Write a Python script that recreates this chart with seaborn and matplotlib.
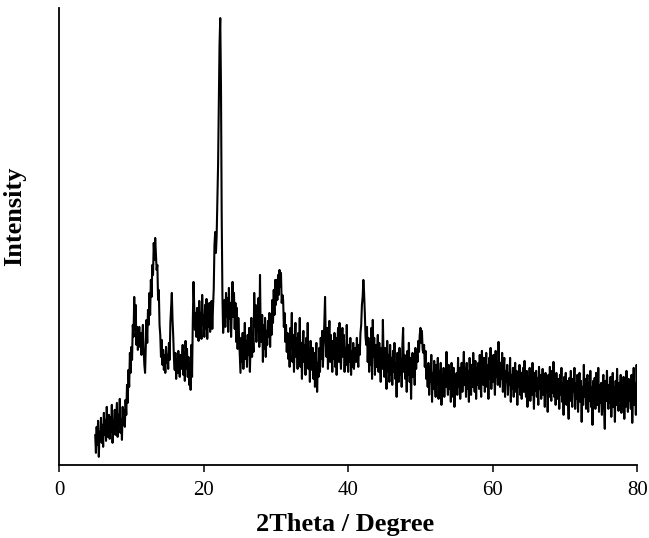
import numpy as np
import pandas as pd
import matplotlib
matplotlib.use("Agg")
import matplotlib.pyplot as plt
import seaborn as sns

# XRD scan: 5.0 -> 80.0 deg, step 0.1 deg (intensity in arbitrary units)
SCAN_START, SCAN_STOP, SCAN_STEP = 5.0, 80.0, 0.1

# 5.0 - 19.9 deg
intensity_05_20 = [
    30, 12, 38, 20, 44, 8, 33, 26, 47, 22,
    40, 18, 52, 30, 45, 24, 58, 28, 38, 50,
    26, 48, 33, 60, 22, 44, 36, 55, 30, 47,
    62, 28, 50, 38, 66, 32, 45, 25, 58, 40,
    55, 38, 65, 50, 80, 62, 95, 78, 112, 92,
    118, 105, 140, 128, 168, 135, 160, 120, 138, 115,
    125, 138, 118, 132, 110, 128, 140, 115, 100, 92,
    120, 145, 122, 155, 140, 172, 150, 185, 168, 200,
    190, 222, 205, 227, 210, 195, 200, 165, 175, 140,
    130, 108, 125, 100, 115, 95, 110, 92, 118, 102,
    110, 96, 122, 105, 142, 158, 172, 145, 128, 105,
    95, 112, 86, 106, 92, 114, 98, 88, 110, 96,
    104, 120, 90, 112, 84, 124, 96, 116, 88, 108,
    80, 102, 75, 120, 88, 142, 183, 158, 135, 152,
    128, 157, 138, 124, 164, 132, 152, 126, 170, 140,
]

# 20.0 - 34.9 deg
intensity_20_35 = [
    150, 128, 160, 136, 166, 126, 154, 138, 162, 133,
    147, 164, 136, 158, 176, 220, 233, 212, 228, 262,
    300, 360, 420, 447, 380, 250, 170, 132, 152, 165,
    138, 172, 148, 167, 133, 177, 146, 162, 128, 157,
    183, 148, 172, 136, 162, 123, 157, 116, 147, 128,
    110, 92, 127, 103, 132, 96, 120, 142, 106, 124,
    98, 130, 110, 137, 93, 122, 147, 108, 132, 113,
    172, 138, 160, 123, 152, 133, 167, 118, 190, 128,
    123, 150, 103, 140, 116, 147, 108, 134, 120, 144,
    128, 152, 118, 150, 130, 165, 142, 175, 150, 185,
    160, 185, 165, 190, 170, 195, 178, 192, 162, 170,
    165, 138, 152, 123, 140, 113, 132, 106, 127, 98,
    137, 116, 152, 103, 130, 93, 122, 142, 108, 127,
    96, 132, 110, 147, 98, 122, 86, 117, 134, 103,
    120, 90, 127, 103, 142, 96, 117, 83, 124, 106,
]

# 35.0 - 49.9 deg
intensity_35_50 = [
    95, 117, 86, 112, 78, 104, 122, 73, 102, 88,
    117, 93, 127, 106, 134, 98, 120, 142, 168, 123,
    108, 137, 96, 122, 144, 103, 130, 113, 93, 124,
    106, 132, 98, 127, 90, 120, 137, 103, 142, 110,
    96, 122, 137, 108, 130, 93, 117, 100, 140, 106,
    93, 120, 103, 127, 90, 114, 98, 122, 96, 110,
    117, 103, 127, 108, 98, 120, 110, 132, 140, 160,
    168, 185, 172, 152, 128, 120, 138, 103, 127, 93,
    122, 100, 137, 86, 145, 108, 127, 90, 120, 98,
    114, 130, 93, 122, 103, 83, 117, 96, 145, 106,
    88, 117, 98, 76, 124, 93, 110, 83, 120, 90,
    107, 80, 114, 93, 122, 86, 102, 68, 112, 96,
    83, 117, 90, 106, 78, 120, 137, 93, 110, 86,
    102, 73, 114, 90, 122, 83, 107, 66, 100, 112,
    88, 110, 80, 117, 96, 112, 103, 124, 113, 130,
]

# 50.0 - 64.9 deg
intensity_50_65 = [
    137, 122, 134, 115, 112, 120, 98, 114, 86, 96,
    78, 102, 70, 97, 83, 110, 63, 92, 76, 104,
    83, 68, 100, 80, 107, 66, 94, 74, 102, 60,
    90, 73, 97, 68, 92, 78, 113, 83, 70, 100,
    76, 94, 63, 102, 80, 68, 97, 58, 90, 73,
    92, 70, 107, 78, 97, 66, 87, 102, 73, 94,
    113, 80, 97, 68, 102, 76, 94, 63, 107, 83,
    70, 100, 78, 112, 86, 73, 104, 66, 97, 80,
    102, 76, 110, 83, 68, 114, 88, 80, 107, 73,
    94, 112, 78, 100, 66, 107, 86, 117, 76, 102,
    83, 110, 93, 70, 114, 88, 104, 80, 123, 93,
    78, 102, 86, 112, 73, 97, 107, 68, 94, 83,
    100, 70, 92, 80, 107, 63, 90, 76, 97, 68,
    87, 102, 73, 94, 60, 90, 78, 100, 70, 92,
    66, 87, 97, 73, 104, 78, 68, 94, 58, 86,
]

# 65.0 - 80.0 deg
intensity_65_80 = [
    76, 97, 64, 90, 70, 102, 80, 56, 92, 74,
    94, 68, 87, 60, 98, 76, 90, 66, 78, 96,
    70, 88, 58, 92, 73, 84, 53, 90, 68, 98,
    78, 64, 94, 72, 103, 68, 87, 60, 92, 74,
    66, 86, 56, 90, 70, 97, 63, 82, 50, 88,
    72, 92, 60, 84, 68, 46, 87, 64, 94, 70,
    58, 86, 73, 97, 56, 82, 66, 90, 53, 80,
    92, 63, 84, 43, 78, 60, 100, 68, 86, 56,
    70, 90, 53, 82, 64, 94, 58, 78, 40, 84,
    66, 87, 56, 92, 68, 60, 97, 53, 80, 62,
    82, 50, 76, 90, 58, 36, 84, 64, 94, 68,
    56, 80, 62, 88, 48, 74, 92, 58, 78, 43,
    84, 60, 96, 68, 54, 82, 64, 90, 52, 76,
    62, 88, 46, 80, 58, 94, 68, 53, 86, 64,
    78, 56, 90, 42, 74, 97, 60, 82, 50, 100,
    70,
]

X_TICKS = [0, 20, 40, 60, 80]


def main():
    intensity = (intensity_05_20 + intensity_20_35 + intensity_35_50
                 + intensity_50_65 + intensity_65_80)
    n = len(intensity)
    two_theta = np.round(SCAN_START + SCAN_STEP * np.arange(n), 1)
    df = pd.DataFrame({"2Theta": two_theta, "Intensity": intensity})

    sns.set_theme(style="ticks")
    plt.rcParams["font.family"] = ["Liberation Serif", "DejaVu Serif"]

    fig = plt.figure(figsize=(6.49, 5.38), dpi=100)
    ax = fig.add_axes([0.091, 0.136, 0.891, 0.849])

    sns.lineplot(data=df, x="2Theta", y="Intensity", color="black",
                 linewidth=1.5, ax=ax)

    ax.set_xlim(0, 80)
    ax.set_ylim(0, 457)
    ax.set_xticks(X_TICKS)
    ax.set_yticks([])
    ax.tick_params(axis="x", direction="out", length=5, width=1.1,
                   labelsize=15, colors="black", pad=7)

    for side in ["top", "right"]:
        ax.spines[side].set_visible(False)
    for side in ["left", "bottom"]:
        ax.spines[side].set_color("black")
        ax.spines[side].set_linewidth(1.3)

    ax.set_xlabel("2Theta / Degree", fontsize=19, fontweight="bold",
                  color="black")
    ax.xaxis.set_label_coords(0.495, -0.105)
    ax.set_ylabel("Intensity", fontsize=19, fontweight="bold",
                  color="black")
    ax.yaxis.set_label_coords(-0.057, 0.545)

    fig.savefig("out.png", dpi=100)
    plt.close(fig)


if __name__ == "__main__":
    main()
